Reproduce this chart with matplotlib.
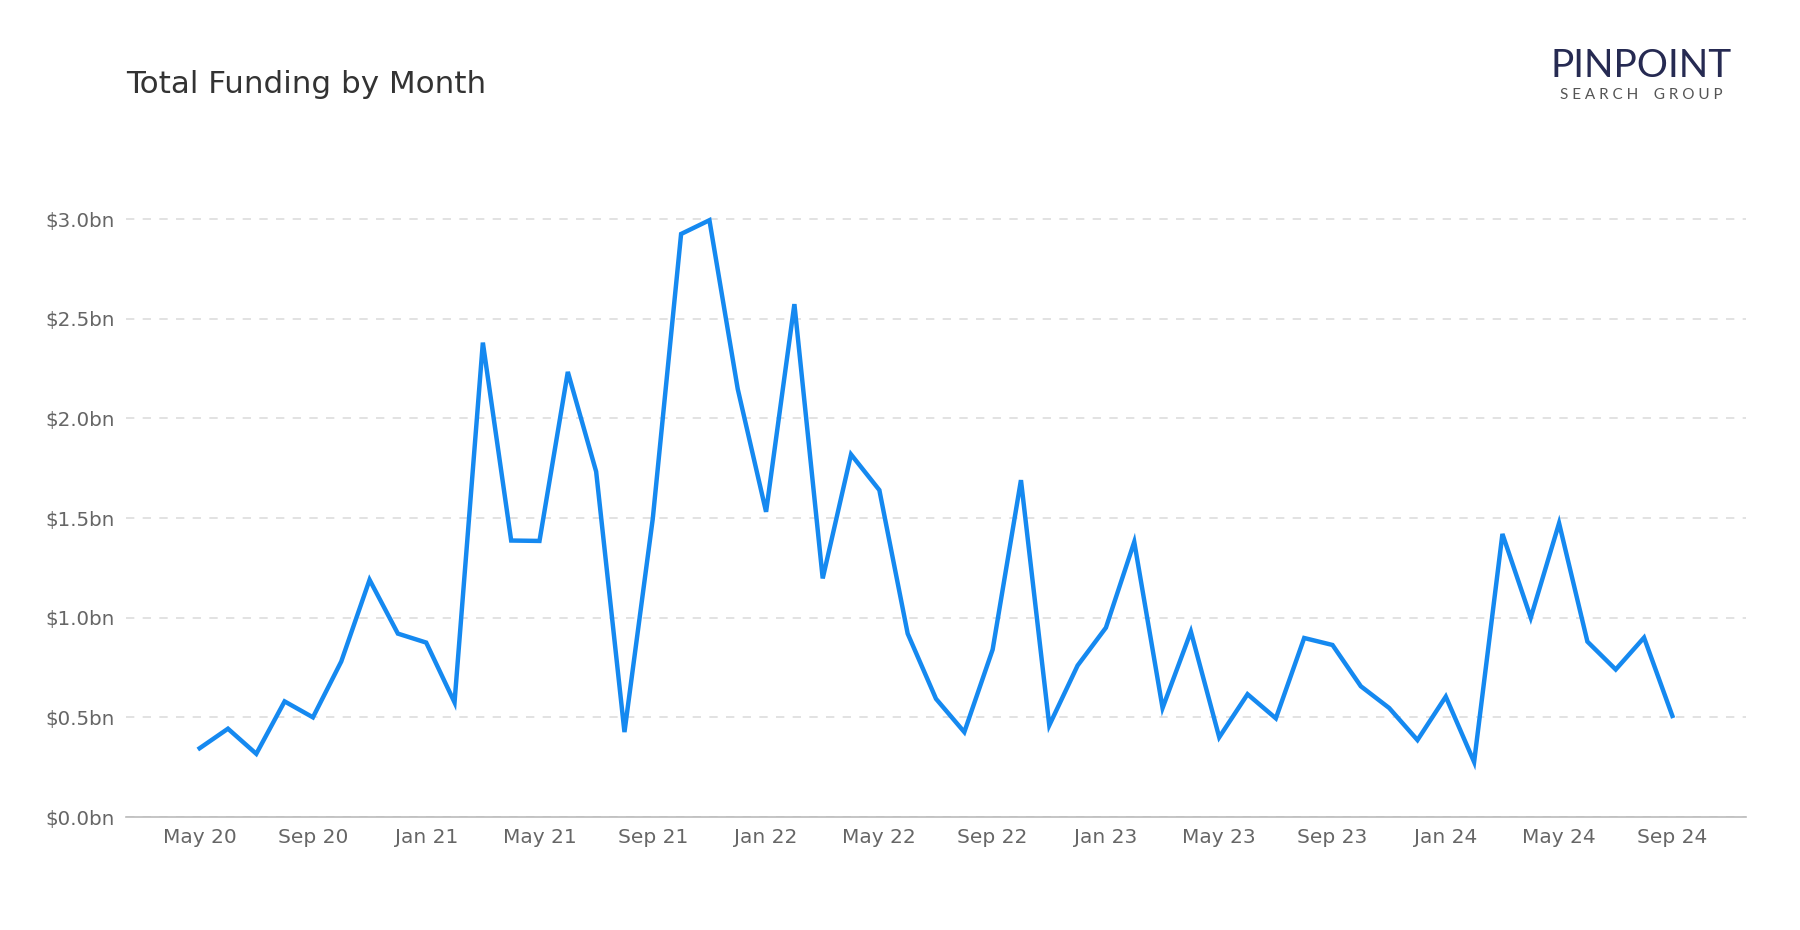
import matplotlib
matplotlib.use("Agg")
import matplotlib.pyplot as plt
import numpy as np

plt.rcParams["font.family"] = ["DejaVu Sans"]

# monthly total funding, $bn, May 2020 .. Sep 2024
months = [
    "May 20", "Jun 20", "Jul 20", "Aug 20", "Sep 20", "Oct 20", "Nov 20", "Dec 20",
    "Jan 21", "Feb 21", "Mar 21", "Apr 21", "May 21", "Jun 21", "Jul 21", "Aug 21",
    "Sep 21", "Oct 21", "Nov 21", "Dec 21", "Jan 22", "Feb 22", "Mar 22", "Apr 22",
    "May 22", "Jun 22", "Jul 22", "Aug 22", "Sep 22", "Oct 22", "Nov 22", "Dec 22",
    "Jan 23", "Feb 23", "Mar 23", "Apr 23", "May 23", "Jun 23", "Jul 23", "Aug 23",
    "Sep 23", "Oct 23", "Nov 23", "Dec 23", "Jan 24", "Feb 24", "Mar 24", "Apr 24",
    "May 24", "Jun 24", "Jul 24", "Aug 24", "Sep 24",
]
funding = [
    0.345, 0.443, 0.317, 0.58, 0.50, 0.78, 1.19, 0.92,
    0.875, 0.575, 2.38, 1.387, 1.385, 2.233, 1.733, 0.426,
    1.497, 2.925, 2.994, 2.147, 1.531, 2.573, 1.197, 1.819,
    1.64, 0.92, 0.593, 0.426, 0.84, 1.69, 0.46, 0.76,
    0.95, 1.38, 0.547, 0.93, 0.40, 0.616, 0.495, 0.898,
    0.863, 0.656, 0.547, 0.386, 0.604, 0.276, 1.42, 1.0,
    1.474, 0.88, 0.74, 0.90, 0.507,
]
yticks = [0.0, 0.5, 1.0, 1.5, 2.0, 2.5, 3.0]

x = np.arange(len(months))

fig = plt.figure(figsize=(18, 9.3), dpi=100)
ax = fig.add_axes([0.07, 0.1215, 0.9, 0.7073])

ax.plot(x, funding, color="#1589F0", lw=3.2, solid_joinstyle="miter")

ax.set_xlim(-2.6, len(months) - 1 + 2.6)
ax.set_ylim(0, 3.3)
ax.set_yticks(yticks)
ax.set_yticklabels([f"${v:.1f}bn" for v in yticks])
ax.set_xticks(x[::4])
ax.set_xticklabels(months[::4])

ax.tick_params(axis="y", length=0, pad=8, labelsize=14.3, labelcolor="#666666")
ax.tick_params(axis="x", length=0, pad=8, labelsize=14.5, labelcolor="#666666")
ax.grid(axis="y", color="#dddddd", linestyle=(0, (5, 5)), lw=1.2)
ax.set_axisbelow(True)
for side in ["top", "right", "left"]:
    ax.spines[side].set_visible(False)
ax.spines["bottom"].set_color("#bbbbbb")
ax.spines["bottom"].set_linewidth(1.2)

fig.text(0.07, 0.909, "Total Funding by Month", fontsize=22.3, color="#333333",
         va="center", ha="left")

# logo
fig.text(0.912, 0.929, "PINPOINT", fontsize=28, color="#262a52", family="Lato",
         ha="center", va="center")
fig.text(0.912, 0.8975, "S E A R C H    G R O U P", fontsize=11, color="#555555",
         family="Lato", ha="center", va="center")

fig.savefig("out.png", dpi=100)
